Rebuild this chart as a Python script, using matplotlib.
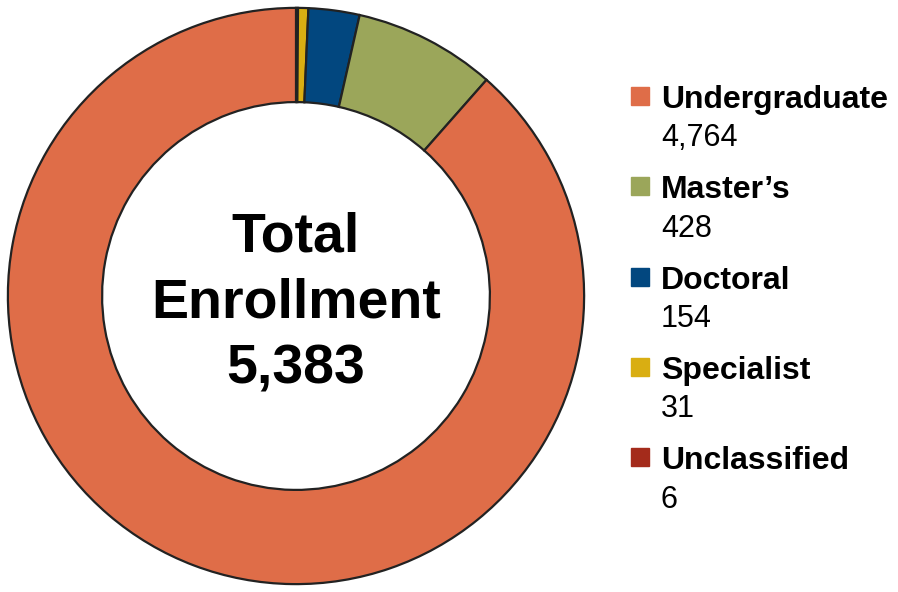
import matplotlib
matplotlib.use("Agg")
import matplotlib.pyplot as plt
from matplotlib.patches import Rectangle

plt.rcParams['font.family'] = ['Liberation Sans', 'DejaVu Sans']

# enrollment by level (drawn clockwise from 12 o'clock)
levels = ["Unclassified", "Specialist", "Doctoral", "Master's", "Undergraduate"]
counts = [6, 31, 154, 428, 4764]
colors = ["#A42B1B", "#D9AE12", "#02477F", "#9BA65A", "#DF6D48"]
total_label = "5,383"

W, H = 898, 592
fig = plt.figure(figsize=(W / 100, H / 100), dpi=100)

# donut: center (296, 296), outer radius 291 px
cx, cy, r = 296, 296, 291
ax = fig.add_axes([(cx - r) / W, (H - cy - r) / H, 2 * r / W, 2 * r / H])
ax.pie(counts, colors=colors, startangle=90, counterclock=False, radius=1,
       wedgeprops=dict(width=0.327, edgecolor="#222222", linewidth=1.6))
ax.set_xlim(-1.01, 1.01)
ax.set_ylim(-1.01, 1.01)
ax.axis("off")

# center label
for txt, yb in [("Total", 252), ("Enrollment", 318), (total_label, 383)]:
    fig.text(cx / W, 1 - yb / H, txt, ha="center", va="baseline",
             fontsize=40, fontweight="bold", color="black")

# legend, in the order shown on the right
leg_order = [4, 3, 2, 1, 0]
for i, idx in enumerate(leg_order):
    yb = 108 + i * 90.3
    fig.patches.append(Rectangle((631 / W, 1 - (yb - 3) / H), 18 / W, 18 / H,
                                 transform=fig.transFigure, color=colors[idx]))
    fig.text(661 / W, 1 - yb / H, levels[idx].replace("'", "\u2019"),
             ha="left", va="baseline", fontsize=23, fontweight="bold")
    fig.text(661 / W, 1 - (yb + 38.5) / H, f"{counts[idx]:,}",
             ha="left", va="baseline", fontsize=22)

fig.savefig("out.png", dpi=100)
